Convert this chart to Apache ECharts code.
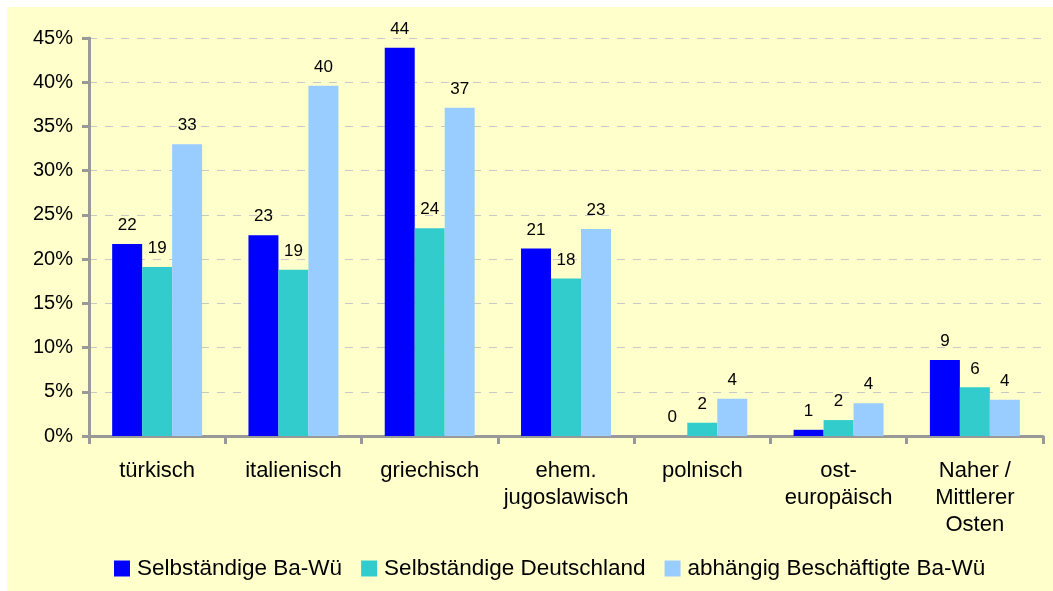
<!DOCTYPE html>
<html>
<head>
<meta charset="utf-8">
<script src="https://cdn.jsdelivr.net/npm/echarts@6/dist/echarts.min.js"></script>
<style>
  html, body { margin: 0; padding: 0; background: #fff; }
  .box { position: absolute; left: 7px; top: 7px; width: 1046px; height: 584px; background: #ffffcc; }
  #chart { width: 1046px; height: 584px; }
</style>
</head>
<body>
<div class="box"><div id="chart"></div></div>
<script>
// Kategorien
const categories = ["türkisch", "italienisch", "griechisch", "ehem.\njugoslawisch", "polnisch", "ost-\neuropäisch", "Naher /\nMittlerer\nOsten"];
// Werte in Prozent
const selbBaWue = [21.7, 22.7, 43.9, 21.2, 0.0, 0.7, 8.6];
const selbDeutschland = [19.1, 18.8, 23.5, 17.8, 1.5, 1.8, 5.5];
const abhBaWue = [33.0, 39.6, 37.1, 23.4, 4.2, 3.7, 4.1];
const seriesNames = ["Selbständige Ba-Wü", "Selbständige Deutschland", "abhängig Beschäftigte Ba-Wü"];

const chart = echarts.init(document.getElementById("chart"));
const font = "Liberation Sans, Arial, sans-serif";

function barSeries(name, data, color) {
  return {
    name: name,
    type: "bar",
    data: data,
    barGap: "0%",
    barCategoryGap: "34%",
    itemStyle: { color: color },
    label: {
      show: true,
      position: "top",
      distance: 10,
      color: "#000",
      fontSize: 17,
      fontFamily: font,
      formatter: (p) => Math.round(p.value), // gerundete Werte
    },
  };
}

const option = {
  animation: false,
  textStyle: { fontFamily: font },
  grid: { left: 82, right: 10, top: 31, bottom: 155 },
  legend: {
    bottom: 6,
    left: 102,
    itemWidth: 16,
    itemHeight: 16,
    itemGap: 19,
    icon: "rect",
    textStyle: { fontSize: 22.5, color: "#000", fontFamily: font, padding: [0, 0, 0, 2] },
    data: seriesNames,
  },
  xAxis: {
    type: "category",
    data: categories,
    axisLine: { lineStyle: { color: "#999", width: 3 } },
    axisTick: { show: true, length: 8, lineStyle: { color: "#999", width: 3 } },
    axisLabel: { fontSize: 22, color: "#000", lineHeight: 27, margin: 21, interval: 0 },
  },
  yAxis: {
    type: "value",
    min: 0,
    max: 45,
    interval: 5,
    axisLine: { show: true, lineStyle: { color: "#999", width: 3 } },
    axisTick: { show: true, length: 7, lineStyle: { color: "#999", width: 3 } },
    axisLabel: { fontSize: 20, color: "#000", formatter: "{value}%", margin: 16 },
    splitLine: { lineStyle: { color: "#c8c8c8", type: [8, 8], width: 1 } },
  },
  series: [
    barSeries(seriesNames[0], selbBaWue, "#0000ff"),
    barSeries(seriesNames[1], selbDeutschland, "#33cccc"),
    barSeries(seriesNames[2], abhBaWue, "#99ccff"),
  ],
};
chart.setOption(option);
</script>
</body>
</html>
